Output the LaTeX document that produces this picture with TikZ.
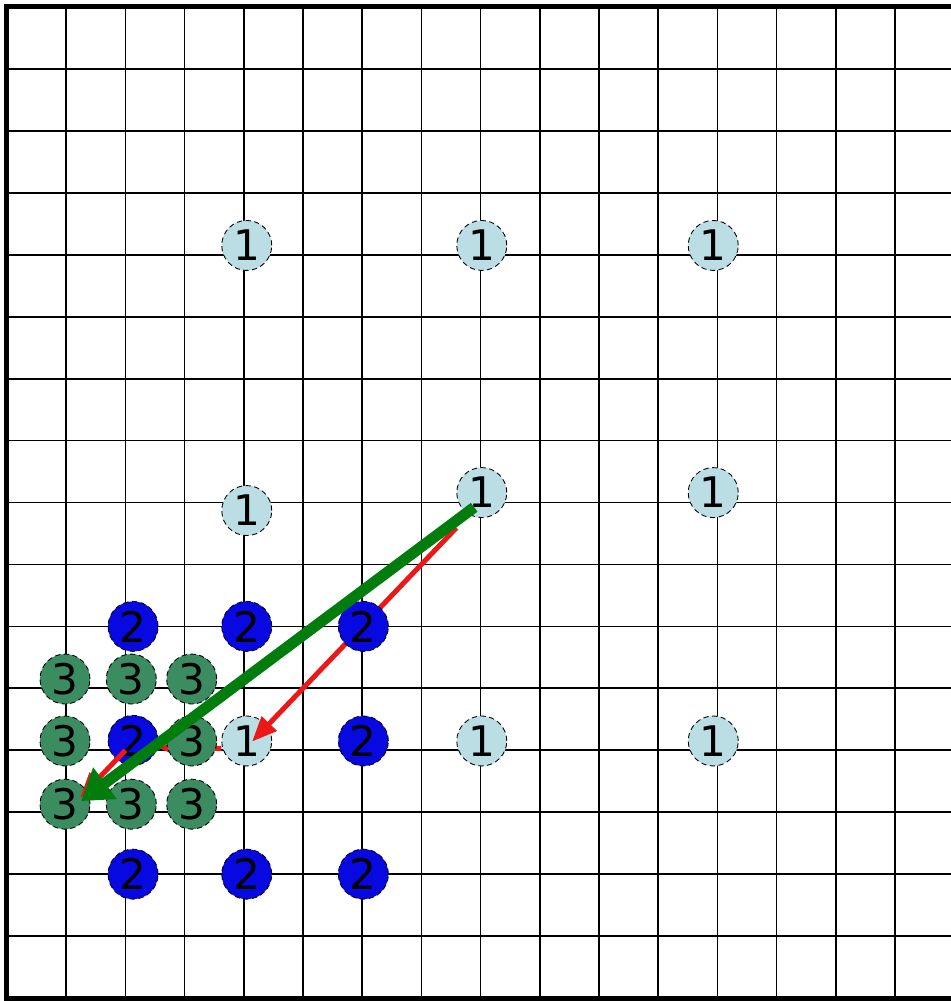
\documentclass[tikz,border=0pt]{standalone}
\usepackage{fontspec}
\setmainfont{DejaVu Sans}
\usetikzlibrary{arrows.meta}
\definecolor{lvlone}{RGB}{186,222,228}
\definecolor{lvltwo}{RGB}{8,8,225}
\definecolor{lvlthree}{RGB}{60,140,98}
\definecolor{mvgreen}{RGB}{0,125,12}
\definecolor{steptred}{RGB}{236,24,24}

\begin{document}
\begin{tikzpicture}[
    x=1.184cm, y=-1.2388cm,
    gridline/.style={line width=1pt, black},
    srch/.style={circle, draw=black, densely dashed, line width=0.5pt, minimum size=1cm, inner sep=0pt, font=\fontsize{24}{24}\selectfont},
    ptone/.style={srch, fill=lvlone},
    pttwo/.style={srch, fill=lvltwo},
    ptthree/.style={srch, fill=lvlthree},
    redarr/.style={steptred, line width=0.1cm, -{Triangle[length=0.5cm, width=0.4cm]}},
    greenarr/.style={mvgreen, line width=0.22cm, -{Triangle[length=0.6cm, width=0.75cm]}}
]
    \useasboundingbox (-0.118,-0.113) rectangle (15.93,16.048);

    % Grid
    \foreach \c in {1,...,15}
        \draw[gridline] (\c,0) -- (\c,16);
    \foreach \r in {1,...,15}
        \draw[gridline] (0,\r) -- (15.95,\r);
    \draw[line width=0.1cm] (15.95,0) -- (0,0) -- (0,16) -- (15.95,16);

    % Search positions
    \coordinate (ctr) at (8,8);
    \coordinate (st1) at (4,12);
    \coordinate (st2) at (2,12);
    \coordinate (st3) at (1,13);

    % Step 1
    \node[ptone] (a1) at (4.05,3.85) {1};
    \node[ptone] (a2) at (8.02,3.85) {1};
    \node[ptone] (a3) at (11.93,3.85) {1};
    \node[ptone] (a4) at (4.05,8.13) {1};
    \node[ptone] (a5) at (8.02,7.84) {1};
    \node[ptone] (a6) at (11.93,7.84) {1};
    \node[ptone] (a7) at (4.05,11.85) {1};
    \node[ptone] (a8) at (8.02,11.85) {1};
    \node[ptone] (a9) at (11.93,11.85) {1};

    \draw[redarr, shorten <=0.7cm, shorten >=0.24cm] (ctr) -- (st1);

    % Step 2
    \node[pttwo] (b1) at (2.13,10) {2};
    \node[pttwo] (b2) at (4.05,10) {2};
    \node[pttwo] (b3) at (6.02,10) {2};
    \node[pttwo] (b4) at (2.13,11.84) {2};
    \node[pttwo] (b5) at (6.02,11.85) {2};
    \node[pttwo] (b6) at (2.13,14) {2};
    \node[pttwo] (b7) at (4.05,14) {2};
    \node[pttwo] (b8) at (6.02,14) {2};

    \draw[redarr, transform canvas={yshift=-0.15cm}] (a7) -- (b4);

    % Step 3
    \node[ptthree] (c1) at (0.98,10.85) {3};
    \node[ptthree] (c2) at (2.1,10.85) {3};
    \node[ptthree] (c3) at (3.12,10.85) {3};
    \node[ptthree] (c4) at (0.98,11.85) {3};
    \node[ptthree] (c5) at (3.12,11.85) {3};
    \node[ptthree] (c6) at (0.98,12.87) {3};
    \node[ptthree] (c7) at (2.1,12.87) {3};
    \node[ptthree] (c8) at (3.12,12.87) {3};

    \draw[redarr, shorten >=0.4cm] (st2) -- (st3);
    \draw[greenarr, shorten <=0.16cm, shorten >=0.37cm] (ctr) -- (st3);
\end{tikzpicture}
\end{document}
